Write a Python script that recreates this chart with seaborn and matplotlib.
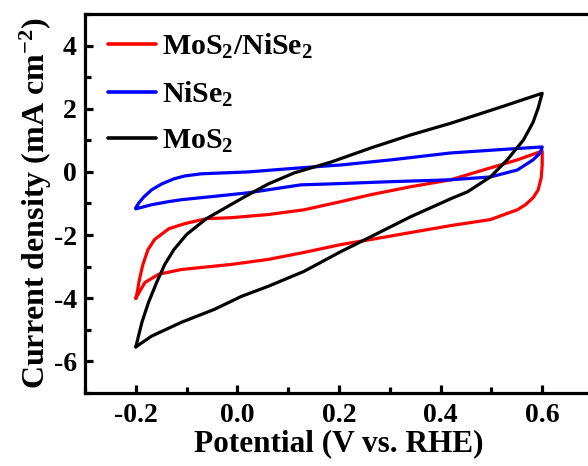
import numpy as np
import pandas as pd
import matplotlib
matplotlib.use("Agg")
import matplotlib.pyplot as plt
import seaborn as sns

# ---- data ----
comp_x = [-0.200, -0.197, -0.194, -0.190, -0.186, -0.176, -0.163, -0.135, -0.104, -0.061, -0.012, 0.061, 0.131,
          0.204, 0.263, 0.341, 0.420, 0.484, 0.551, 0.600,
          0.600, 0.598, 0.592, 0.582, 0.567, 0.551, 0.498, 0.420, 0.341, 0.263, 0.204, 0.131,
          0.061, -0.012, -0.110, -0.155, -0.182, -0.198, -0.200]
comp_y = [-4.00, -3.80, -3.50, -3.20, -2.93, -2.46, -2.14, -1.80, -1.64, -1.48, -1.45, -1.35, -1.20,
          -0.94, -0.72, -0.47, -0.25, 0.06, 0.38, 0.66,
          0.22, -0.19, -0.57, -0.82, -1.04, -1.20, -1.51, -1.70, -1.92, -2.14, -2.30, -2.55,
          -2.77, -2.93, -3.09, -3.24, -3.50, -3.94, -4.00]

nise_x = [-0.200, -0.194, -0.184, -0.169, -0.149, -0.125, -0.104, -0.071, 0.022, 0.125, 0.204,
          0.302, 0.420, 0.531, 0.600,
          0.596, 0.582, 0.551, 0.498, 0.420, 0.302, 0.184, 0.125, 0.022, -0.037, -0.110,
          -0.135, -0.169, -0.200]
nise_y = [-1.13, -0.98, -0.79, -0.57, -0.38, -0.22, -0.13, -0.06, 0.00, 0.13, 0.22,
          0.38, 0.60, 0.72, 0.79,
          0.60, 0.38, 0.06, -0.16, -0.25, -0.31, -0.38, -0.41, -0.66, -0.76, -0.88,
          -0.94, -1.04, -1.17]

mos_x = [-0.200, -0.188, -0.175, -0.159, -0.143, -0.125, -0.100, -0.061, 0.014, 0.061, 0.112,
         0.184, 0.263, 0.341, 0.420, 0.518, 0.600,
         0.592, 0.582, 0.563, 0.531, 0.498, 0.453, 0.420, 0.341, 0.263, 0.204, 0.131, 0.061,
         0.008, -0.045, -0.110, -0.169, -0.200]
mos_y = [-5.54, -4.76, -4.13, -3.50, -2.93, -2.46, -1.98, -1.48, -0.79, -0.38, -0.03,
         0.31, 0.76, 1.17, 1.54, 2.05, 2.49,
         2.02, 1.57, 1.01, 0.38, -0.16, -0.63, -0.85, -1.42, -2.05, -2.52, -3.15, -3.62,
         -3.94, -4.35, -4.76, -5.20, -5.54]

labels = ["MoS$_2$/NiSe$_2$", "NiSe$_2$", "MoS$_2$"]
colors = ["#ff0000", "#0000ff", "#000000"]
x_ticks = [-0.2, 0.0, 0.2, 0.4, 0.6]
y_ticks = [-6, -4, -2, 0, 2, 4]

frames = []
for lab, xs, ys in zip(labels, [comp_x, nise_x, mos_x], [comp_y, nise_y, mos_y]):
    frames.append(pd.DataFrame({"x": xs, "y": ys, "sample": lab}))
df = pd.concat(frames, ignore_index=True)

sns.set_theme(style="ticks")
plt.rcParams["font.family"] = ["Liberation Serif", "DejaVu Serif"]
plt.rcParams["font.weight"] = "bold"
plt.rcParams["text.color"] = "black"
plt.rcParams["axes.labelcolor"] = "black"
plt.rcParams["xtick.color"] = "black"
plt.rcParams["ytick.color"] = "black"
plt.rcParams["mathtext.fontset"] = "custom"
plt.rcParams["mathtext.rm"] = "Liberation Serif:bold"
plt.rcParams["mathtext.it"] = "Liberation Serif:bold"
plt.rcParams["mathtext.bf"] = "Liberation Serif:bold"
plt.rcParams["mathtext.default"] = "rm"

fig = plt.figure(figsize=(5.88, 4.66), dpi=100)
ax = fig.add_axes([0.1446, 0.1567, 0.8639, 0.8133])

sns.lineplot(data=df, x="x", y="y", hue="sample", hue_order=labels, palette=colors,
             estimator=None, sort=False, units="sample", lw=2.3, ax=ax,
             solid_joinstyle="round", solid_capstyle="round")

ax.set_xlim(-0.3, 0.7)
ax.set_ylim(-7, 5)
ax.set_xticks(x_ticks)
ax.set_xticklabels([f"{t:.1f}" for t in x_ticks])
ax.set_yticks(y_ticks)
ax.set_yticklabels([str(t) for t in y_ticks])
ax.set_xticks(np.arange(-0.3, 0.71, 0.1), minor=True)
ax.set_yticks(np.arange(-7, 5.1, 1), minor=True)

for s in ax.spines.values():
    s.set_linewidth(2.3)
    s.set_color("black")
ax.tick_params(which="major", direction="in", length=6, width=2.3, labelsize=20, pad=6,
               top=False, right=False, colors="black")
ax.tick_params(axis="x", which="major", pad=7)
ax.tick_params(which="minor", direction="in", length=4, width=2.3, top=False, right=False,
               color="black")
for lab in ax.get_xticklabels() + ax.get_yticklabels():
    lab.set_fontweight("bold")

ax.set_xlabel("Potential (V vs. RHE)", fontsize=22.5, fontweight="bold", labelpad=1)
ax.set_ylabel("Current density (mA cm$^{-2}$)", fontsize=23, fontweight="bold", labelpad=0)

leg = ax.legend(loc="upper left", frameon=False, fontsize=21.5, handlelength=1.6,
                handletextpad=0.2, labelspacing=0.62, borderaxespad=0.2,
                bbox_to_anchor=(0.01, 1.0))
for ln in leg.get_lines():
    ln.set_linewidth(2.6)
for t in leg.get_texts():
    t.set_fontweight("bold")
    t.set_color("black")

fig.savefig("out.png", dpi=100)
